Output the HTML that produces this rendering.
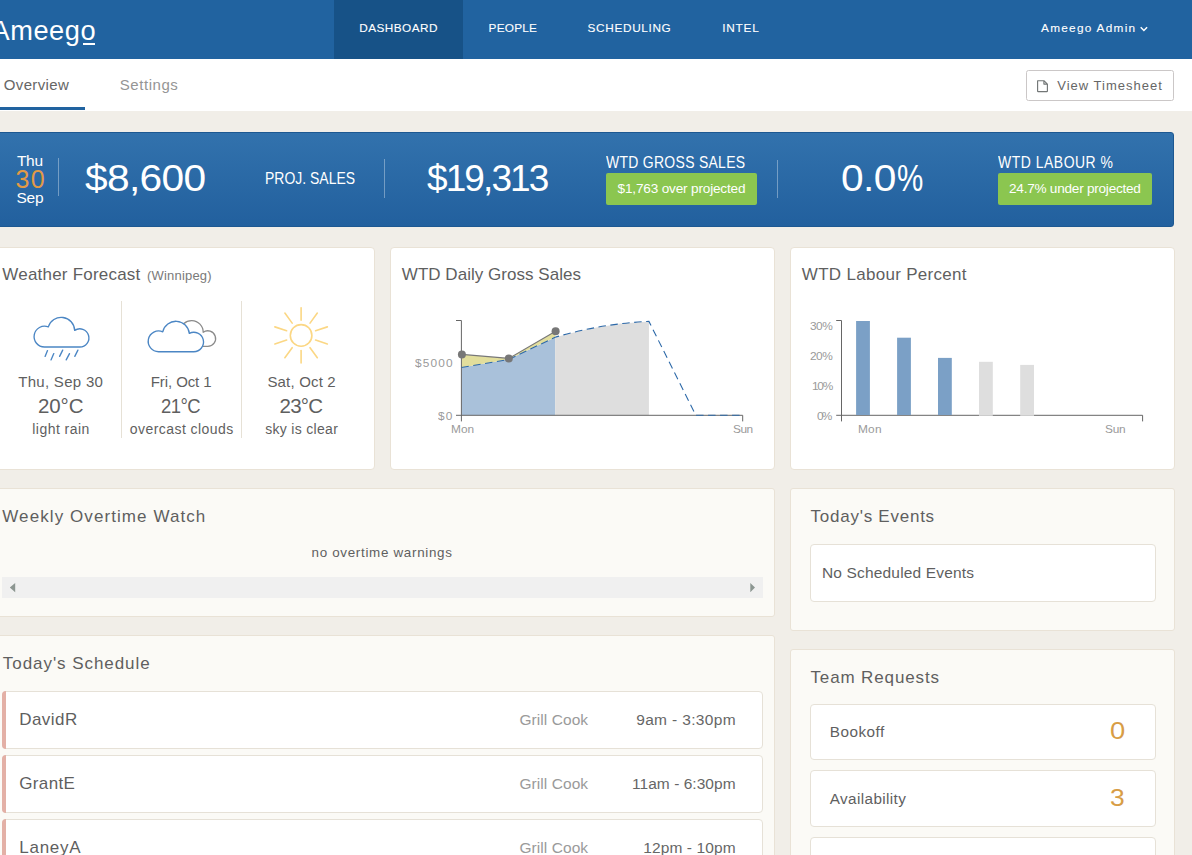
<!DOCTYPE html>
<html><head><meta charset="utf-8"><title>Ameego Dashboard</title>
<style>
html,body{margin:0;padding:0;overflow:hidden;background:#f1eee8}
#root{width:1192px;height:855px;overflow:hidden;position:relative;background:#f1eee8;font-family:"Liberation Sans",sans-serif}
.t{position:absolute;white-space:pre;line-height:1;font-family:"Liberation Sans",sans-serif}
svg{overflow:visible}
</style></head><body><div id="root">
<div style="position:absolute;left:0;top:0;width:1192px;height:59px;background:#2163a0"></div>
<div style="position:absolute;left:334px;top:0;width:129px;height:59px;background:#175287"></div>
<span class="t" style="left:-8.60px;top:17.01px;font-size:27.2px;color:#fff;letter-spacing:0.598px;">Ameego</span>
<div style="position:absolute;left:82.6px;top:43.2px;width:12.4px;height:2.2px;background:#fff"></div>
<span class="t" style="left:359.30px;top:23.01px;font-size:11.8px;color:#fff;letter-spacing:0.432px;-webkit-text-stroke:0.1px #fff;">DASHBOARD</span>
<span class="t" style="left:488.60px;top:23.01px;font-size:11.8px;color:#fff;letter-spacing:0.235px;-webkit-text-stroke:0.1px #fff;">PEOPLE</span>
<span class="t" style="left:587.60px;top:23.01px;font-size:11.8px;color:#fff;letter-spacing:0.648px;-webkit-text-stroke:0.1px #fff;">SCHEDULING</span>
<span class="t" style="left:722.20px;top:23.01px;font-size:11.8px;color:#fff;letter-spacing:0.790px;-webkit-text-stroke:0.1px #fff;">INTEL</span>
<span class="t" style="left:1041.00px;top:23.01px;font-size:11.8px;color:#fff;letter-spacing:1.289px;-webkit-text-stroke:0.1px #fff;">Ameego Admin</span>
<svg style="position:absolute;left:1139px;top:24.6px" width="10" height="9" viewBox="0 0 10 9"><path d="M1.7 2.3 L4.9 5.5 L8.1 2.3" fill="none" stroke="#fff" stroke-width="1.5"/></svg>
<div style="position:absolute;left:0;top:59px;width:1192px;height:52px;background:#fff"></div>
<div style="position:absolute;left:0;top:107px;width:85px;height:3px;background:#2163a0"></div>
<span class="t" style="left:3.80px;top:77.00px;font-size:15px;color:#666;letter-spacing:0.355px;">Overview</span>
<span class="t" style="left:119.80px;top:77.00px;font-size:15px;color:#959595;letter-spacing:0.543px;">Settings</span>
<div style="position:absolute;left:1026px;top:70px;width:146px;height:29px;border:1px solid #cbc7c7;border-radius:2.5px;background:#fff"></div>
<svg style="position:absolute;left:1036px;top:79px" width="14" height="15" viewBox="0 0 14 15"><path d="M1.6 1.7 H7.9 L11.4 5.1 V12 Q11.4 12.6 10.8 12.6 H2.2 Q1.6 12.6 1.6 12 Z M7.9 1.7 V5.1 H11.4" fill="none" stroke="#727676" stroke-width="1.15" stroke-linejoin="round"/></svg>
<span class="t" style="left:1057.20px;top:79.00px;font-size:13px;color:#666;letter-spacing:1.006px;">View Timesheet</span>
<div style="position:absolute;left:-10px;top:132px;width:1182px;height:93px;border:1px solid #1d5891;border-radius:3px;background:linear-gradient(#3272ad,#22609e)"></div>
<span class="t" style="left:17.00px;top:153.00px;font-size:15.5px;color:#fff;letter-spacing:-0.354px;">Thu</span>
<span class="t" style="left:15.60px;top:167.00px;font-size:25px;color:#e39a45;letter-spacing:1.192px;">30</span>
<span class="t" style="left:16.50px;top:190.00px;font-size:15.5px;color:#fff;letter-spacing:-0.290px;">Sep</span>
<div style="position:absolute;left:58px;top:158px;width:1px;height:38px;background:rgba(255,255,255,.35)"></div>
<div style="position:absolute;left:384px;top:159px;width:1px;height:39px;background:rgba(255,255,255,.35)"></div>
<div style="position:absolute;left:777px;top:160px;width:1px;height:38px;background:rgba(255,255,255,.35)"></div>
<span class="t" style="left:85.20px;top:160.00px;font-size:37px;color:#fff;letter-spacing:-0.616px;transform:scaleX(1.1);transform-origin:0 0;">$8,600</span>
<span class="t" style="left:264.50px;top:171.01px;font-size:15.7px;color:#fff;letter-spacing:0.002px;transform:scaleX(0.89);transform-origin:0 0;">PROJ. SALES</span>
<span class="t" style="left:427.00px;top:160.00px;font-size:37px;color:#fff;letter-spacing:-1.908px;transform:scaleX(1.0);transform-origin:0 0;">$19,313</span>
<span class="t" style="left:606.40px;top:155.01px;font-size:15.7px;color:#fff;letter-spacing:0.329px;transform:scaleX(0.89);transform-origin:0 0;">WTD GROSS SALES</span>
<div style="position:absolute;left:606px;top:173px;width:151px;height:31.5px;border-radius:2px;background:#8bc650"></div>
<span class="t" style="left:617.50px;top:182.01px;font-size:13.6px;color:#fff;letter-spacing:-0.173px;">$1,763 over projected</span>
<span class="t" style="left:841.20px;top:160.00px;font-size:37px;color:#fff;letter-spacing:-0.581px;transform:scaleX(1.1);transform-origin:0 0;">0.0</span>
<span class="t" style="left:897.00px;top:160.00px;font-size:37px;color:#fff;letter-spacing:0.000px;transform:scaleX(0.8);transform-origin:0 0;">%</span>
<span class="t" style="left:998.40px;top:155.01px;font-size:15.7px;color:#fff;letter-spacing:0.576px;transform:scaleX(0.89);transform-origin:0 0;">WTD LABOUR %</span>
<div style="position:absolute;left:998px;top:173px;width:154px;height:31.5px;border-radius:2px;background:#8bc650"></div>
<span class="t" style="left:1009.00px;top:182.01px;font-size:13.6px;color:#fff;letter-spacing:-0.243px;">24.7% under projected</span>
<div style="position:absolute;left:-10px;top:247px;width:383px;height:221px;border:1px solid #e9e2d6;border-radius:4px;background:#fff"></div>
<div style="position:absolute;left:390px;top:247px;width:383px;height:221px;border:1px solid #e9e2d6;border-radius:4px;background:#fff"></div>
<div style="position:absolute;left:790px;top:247px;width:383px;height:221px;border:1px solid #e9e2d6;border-radius:4px;background:#fff"></div>
<span class="t" style="left:2.30px;top:266.00px;font-size:17px;color:#5f5f5f;letter-spacing:0.214px;">Weather Forecast</span>
<span class="t" style="left:147.00px;top:269.00px;font-size:13px;color:#7a7a7a;letter-spacing:0.194px;">(Winnipeg)</span>
<span class="t" style="left:401.80px;top:266.00px;font-size:17px;color:#5f5f5f;letter-spacing:0.034px;">WTD Daily Gross Sales</span>
<span class="t" style="left:801.80px;top:266.00px;font-size:17px;color:#5f5f5f;letter-spacing:0.296px;">WTD Labour Percent</span>
<div style="position:absolute;left:121px;top:301px;width:1px;height:137px;background:#e6e1d6"></div>
<div style="position:absolute;left:241px;top:301px;width:1px;height:137px;background:#e6e1d6"></div>
<span class="t" style="left:18.20px;top:374.00px;font-size:15px;color:#5f5f5f;letter-spacing:0.298px;">Thu, Sep 30</span>
<span class="t" style="left:37.90px;top:396.00px;font-size:20.5px;color:#5f5f5f;letter-spacing:-0.068px;">20°C</span>
<span class="t" style="left:32.30px;top:422.00px;font-size:14px;color:#5f5f5f;letter-spacing:0.454px;">light rain</span>
<span class="t" style="left:150.80px;top:374.00px;font-size:15px;color:#5f5f5f;letter-spacing:-0.097px;">Fri, Oct 1</span>
<span class="t" style="left:161.40px;top:396.00px;font-size:20.5px;color:#5f5f5f;letter-spacing:-0.565px;transform:scaleX(0.9);transform-origin:0 0;">21°C</span>
<span class="t" style="left:129.80px;top:422.00px;font-size:14px;color:#5f5f5f;letter-spacing:0.438px;">overcast clouds</span>
<span class="t" style="left:267.40px;top:374.00px;font-size:15px;color:#5f5f5f;letter-spacing:0.178px;">Sat, Oct 2</span>
<span class="t" style="left:279.60px;top:396.00px;font-size:20.5px;color:#5f5f5f;letter-spacing:-0.802px;">23°C</span>
<span class="t" style="left:265.20px;top:422.00px;font-size:14px;color:#5f5f5f;letter-spacing:0.315px;">sky is clear</span>
<span class="t" style="left:415.00px;top:358.01px;font-size:10.8px;color:#9a9a9a;letter-spacing:1.037px;transform:scaleX(1.1);transform-origin:0 0;">$5000</span>
<span class="t" style="left:438.20px;top:411.01px;font-size:10.8px;color:#9a9a9a;letter-spacing:1.078px;transform:scaleX(1.1);transform-origin:0 0;">$0</span>
<span class="t" style="left:450.50px;top:424.01px;font-size:10.8px;color:#9a9a9a;letter-spacing:0.041px;transform:scaleX(1.1);transform-origin:0 0;">Mon</span>
<span class="t" style="left:732.80px;top:424.01px;font-size:10.8px;color:#9a9a9a;letter-spacing:-0.426px;transform:scaleX(1.1);transform-origin:0 0;">Sun</span>
<span class="t" style="left:810.00px;top:321.01px;font-size:10.8px;color:#9a9a9a;letter-spacing:-0.490px;transform:scaleX(1.1);transform-origin:0 0;">30%</span>
<span class="t" style="left:810.00px;top:351.01px;font-size:10.8px;color:#9a9a9a;letter-spacing:-0.490px;transform:scaleX(1.1);transform-origin:0 0;">20%</span>
<span class="t" style="left:811.50px;top:381.01px;font-size:10.8px;color:#9a9a9a;letter-spacing:-1.172px;transform:scaleX(1.1);transform-origin:0 0;">10%</span>
<span class="t" style="left:817.30px;top:411.01px;font-size:10.8px;color:#9a9a9a;letter-spacing:-1.609px;transform:scaleX(1.1);transform-origin:0 0;">0%</span>
<span class="t" style="left:857.80px;top:424.01px;font-size:10.8px;color:#9a9a9a;letter-spacing:0.177px;transform:scaleX(1.1);transform-origin:0 0;">Mon</span>
<span class="t" style="left:1105.00px;top:424.01px;font-size:10.8px;color:#9a9a9a;letter-spacing:-0.245px;transform:scaleX(1.1);transform-origin:0 0;">Sun</span>
<div style="position:absolute;left:-10px;top:488px;width:783px;height:127px;border:1px solid #e9e2d6;border-radius:3px;background:#fbfaf6"></div>
<div style="position:absolute;left:-10px;top:635px;width:783px;height:298px;border:1px solid #e9e2d6;border-radius:3px;background:#fbfaf6"></div>
<div style="position:absolute;left:790px;top:488px;width:383px;height:141px;border:1px solid #e9e2d6;border-radius:3px;background:#fbfaf6"></div>
<div style="position:absolute;left:790px;top:649px;width:383px;height:298px;border:1px solid #e9e2d6;border-radius:3px;background:#fbfaf6"></div>
<span class="t" style="left:2.30px;top:508.00px;font-size:17px;color:#5f5f5f;letter-spacing:1.081px;">Weekly Overtime Watch</span>
<span class="t" style="left:311.50px;top:546.00px;font-size:13.4px;color:#5f5f5f;letter-spacing:0.692px;">no overtime warnings</span>
<div style="position:absolute;left:2px;top:577px;width:761px;height:20.5px;background:#f0f0f0"></div>
<span class="t" style="left:2.80px;top:655.00px;font-size:17px;color:#5f5f5f;letter-spacing:0.945px;">Today's Schedule</span>
<div style="position:absolute;left:2px;top:691px;width:759px;height:56px;border:1px solid #e6e1d7;border-radius:4px;background:#fff;"></div>
<div style="position:absolute;left:2px;top:691px;width:4px;height:58px;background:#e3b0a6;border-radius:4px 0 0 4px"></div>
<span class="t" style="left:19.20px;top:711.00px;font-size:17px;color:#5f5f5f;letter-spacing:0.452px;">DavidR</span>
<span class="t" style="left:519.50px;top:712.00px;font-size:15.5px;color:#9a9a9a;letter-spacing:0.062px;">Grill Cook</span>
<span class="t" style="left:636.20px;top:712.00px;font-size:15.5px;color:#666;letter-spacing:0.343px;">9am - 3:30pm</span>
<div style="position:absolute;left:2px;top:755px;width:759px;height:56px;border:1px solid #e6e1d7;border-radius:4px;background:#fff;"></div>
<div style="position:absolute;left:2px;top:755px;width:4px;height:58px;background:#e3b0a6;border-radius:4px 0 0 4px"></div>
<span class="t" style="left:19.20px;top:775.00px;font-size:17px;color:#5f5f5f;letter-spacing:0.369px;">GrantE</span>
<span class="t" style="left:519.50px;top:776.00px;font-size:15.5px;color:#9a9a9a;letter-spacing:0.062px;">Grill Cook</span>
<span class="t" style="left:632.00px;top:776.00px;font-size:15.5px;color:#666;letter-spacing:0.042px;">11am - 6:30pm</span>
<div style="position:absolute;left:2px;top:819px;width:759px;height:56px;border:1px solid #e6e1d7;border-radius:4px;background:#fff;"></div>
<div style="position:absolute;left:2px;top:819px;width:4px;height:58px;background:#e3b0a6;border-radius:4px 0 0 4px"></div>
<span class="t" style="left:19.20px;top:839.00px;font-size:17px;color:#5f5f5f;letter-spacing:0.768px;">LaneyA</span>
<span class="t" style="left:519.50px;top:840.00px;font-size:15.5px;color:#9a9a9a;letter-spacing:0.062px;">Grill Cook</span>
<span class="t" style="left:643.30px;top:840.00px;font-size:15.5px;color:#666;letter-spacing:0.098px;">12pm - 10pm</span>
<span class="t" style="left:810.50px;top:508.00px;font-size:17px;color:#5f5f5f;letter-spacing:0.754px;">Today's Events</span>
<div style="position:absolute;left:810px;top:544px;width:344px;height:56px;border:1px solid #e6e1d7;border-radius:4px;background:#fff;"></div>
<span class="t" style="left:822.00px;top:565.00px;font-size:15.5px;color:#5f5f5f;letter-spacing:0.163px;">No Scheduled Events</span>
<span class="t" style="left:810.50px;top:669.00px;font-size:17px;color:#5f5f5f;letter-spacing:0.866px;">Team Requests</span>
<div style="position:absolute;left:810px;top:704px;width:344px;height:54px;border:1px solid #e6e1d7;border-radius:4px;background:#fff;"></div>
<div style="position:absolute;left:810px;top:770px;width:344px;height:55px;border:1px solid #e6e1d7;border-radius:4px;background:#fff;"></div>
<div style="position:absolute;left:810px;top:837px;width:344px;height:55px;border:1px solid #e6e1d7;border-radius:4px;background:#fff;"></div>
<span class="t" style="left:829.80px;top:724.01px;font-size:15.3px;color:#5f5f5f;letter-spacing:0.482px;">Bookoff</span>
<span class="t" style="left:829.80px;top:791.01px;font-size:15.3px;color:#5f5f5f;letter-spacing:0.372px;">Availability</span>
<span class="t" style="left:1109.70px;top:719.00px;font-size:24px;color:#d89d45;letter-spacing:0.000px;transform:scaleX(1.14);transform-origin:0 0;">0</span>
<span class="t" style="left:1109.90px;top:786.00px;font-size:24px;color:#d89d45;letter-spacing:0.000px;transform:scaleX(1.1);transform-origin:0 0;">3</span>
<svg style="position:absolute;left:0;top:0" width="1192" height="855" viewBox="0 0 1192 855">
<path d="M44.50 347.00 A10.4 10.4 0 1 1 48.30 326.92 A13.5 13.5 0 0 1 74.69 330.37 A9.1 9.1 0 1 1 79.80 347.00 Z" fill="none" stroke="#4b86c4" stroke-width="1.35" stroke-linejoin="round"/>
<line x1="45.1" y1="356.4" x2="47.5" y2="350.6" stroke="#4b86c4" stroke-width="1.35" stroke-linecap="round"/>
<line x1="51" y1="359.9" x2="53.8" y2="353.6" stroke="#4b86c4" stroke-width="1.35" stroke-linecap="round"/>
<line x1="59.6" y1="356.4" x2="62.7" y2="350.1" stroke="#4b86c4" stroke-width="1.35" stroke-linecap="round"/>
<line x1="66.2" y1="359.9" x2="69.5" y2="353.6" stroke="#4b86c4" stroke-width="1.35" stroke-linecap="round"/>
<line x1="74.8" y1="356.4" x2="77.9" y2="350.1" stroke="#4b86c4" stroke-width="1.35" stroke-linecap="round"/>
<path d="M184.00 346.40 A7.9 7.9 0 1 1 180.00 331.69 A11.6 11.6 0 0 1 203.19 332.31 A7.8 7.8 0 1 1 207.80 346.40 Z" fill="none" stroke="#8b8b8b" stroke-width="1.3" stroke-linejoin="round"/>
<path d="M158.60 351.70 A10.4 10.4 0 1 1 162.75 331.76 A13.5 13.5 0 0 1 189.33 333.39 A9.7 9.7 0 1 1 193.80 351.70 Z" fill="#fff" stroke="#4b86c4" stroke-width="1.35" stroke-linejoin="round"/>
<circle cx="301.1" cy="335.4" r="10.8" fill="none" stroke="#fbd784" stroke-width="1.6"/>
<line x1="301.10" y1="320.20" x2="301.10" y2="307.80" stroke="#fbd784" stroke-width="1.6" stroke-linecap="round"/>
<line x1="310.03" y1="323.10" x2="317.32" y2="313.07" stroke="#fbd784" stroke-width="1.6" stroke-linecap="round"/>
<line x1="315.56" y1="330.70" x2="327.35" y2="326.87" stroke="#fbd784" stroke-width="1.6" stroke-linecap="round"/>
<line x1="315.56" y1="340.10" x2="327.35" y2="343.93" stroke="#fbd784" stroke-width="1.6" stroke-linecap="round"/>
<line x1="310.03" y1="347.70" x2="317.32" y2="357.73" stroke="#fbd784" stroke-width="1.6" stroke-linecap="round"/>
<line x1="301.10" y1="350.60" x2="301.10" y2="363.00" stroke="#fbd784" stroke-width="1.6" stroke-linecap="round"/>
<line x1="292.17" y1="347.70" x2="284.88" y2="357.73" stroke="#fbd784" stroke-width="1.6" stroke-linecap="round"/>
<line x1="286.64" y1="340.10" x2="274.85" y2="343.93" stroke="#fbd784" stroke-width="1.6" stroke-linecap="round"/>
<line x1="286.64" y1="330.70" x2="274.85" y2="326.87" stroke="#fbd784" stroke-width="1.6" stroke-linecap="round"/>
<line x1="292.17" y1="323.10" x2="284.88" y2="313.07" stroke="#fbd784" stroke-width="1.6" stroke-linecap="round"/>
<path d="M461.4 415.3 L461.4 367.5 L508.28 359.6 L555.16 337.2 L555.16 415.3 Z" fill="#a9c1da"/>
<path d="M555.16 415.3 L555.16 337.2 Q602.04 323.59999999999997 648.92 321.4 L648.92 415.3 Z" fill="#dedede"/>
<path d="M461.4 367.5 L461.9 354.4 L508.8 358.4 L555.6 331.2 L555.16 337.2 L508.28 359.6 Z" fill="#e2de9c"/>
<path d="M456 320.5 H461.4 V421.4 M456 415.3 H742.7 V421.4" fill="none" stroke="#666" stroke-width="1"/>
<path d="M461.4 367.5 L508.28 359.6 L555.16 337.2 Q602.04 323.59999999999997 648.92 321.4 L695.8 415.3 L742.6800000000001 415.3" fill="none" stroke="#2d69a8" stroke-width="1.1" stroke-dasharray="7.5 4.5"/>
<path d="M461.9 354.4 L508.8 358.4 L555.6 331.2" fill="none" stroke="#777" stroke-width="1.1"/>
<circle cx="461.9" cy="354.4" r="4" fill="#777"/>
<circle cx="508.8" cy="358.4" r="4" fill="#777"/>
<circle cx="555.6" cy="331.2" r="4" fill="#777"/>
<path d="M836.2 320.5 H841.5 V421.4 M836.2 415.3 H1142.6 V421.4" fill="none" stroke="#666" stroke-width="1"/>
<rect x="856.1" y="321" width="13.8" height="94.0" fill="#7ba0c6"/>
<rect x="897.1" y="337.7" width="13.8" height="77.3" fill="#7ba0c6"/>
<rect x="938" y="357.9" width="13.8" height="57.1" fill="#7ba0c6"/>
<rect x="979" y="361.8" width="13.8" height="54.0" fill="#dedede"/>
<rect x="1020.2" y="364.9" width="13.8" height="50.9" fill="#dedede"/>
<path d="M9.8 587.6 L15.2 582.9 V592.3 Z M755 587.6 L750.3 582.9 V592.3 Z" fill="#8c9691"/>
</svg>
</div></body></html>
